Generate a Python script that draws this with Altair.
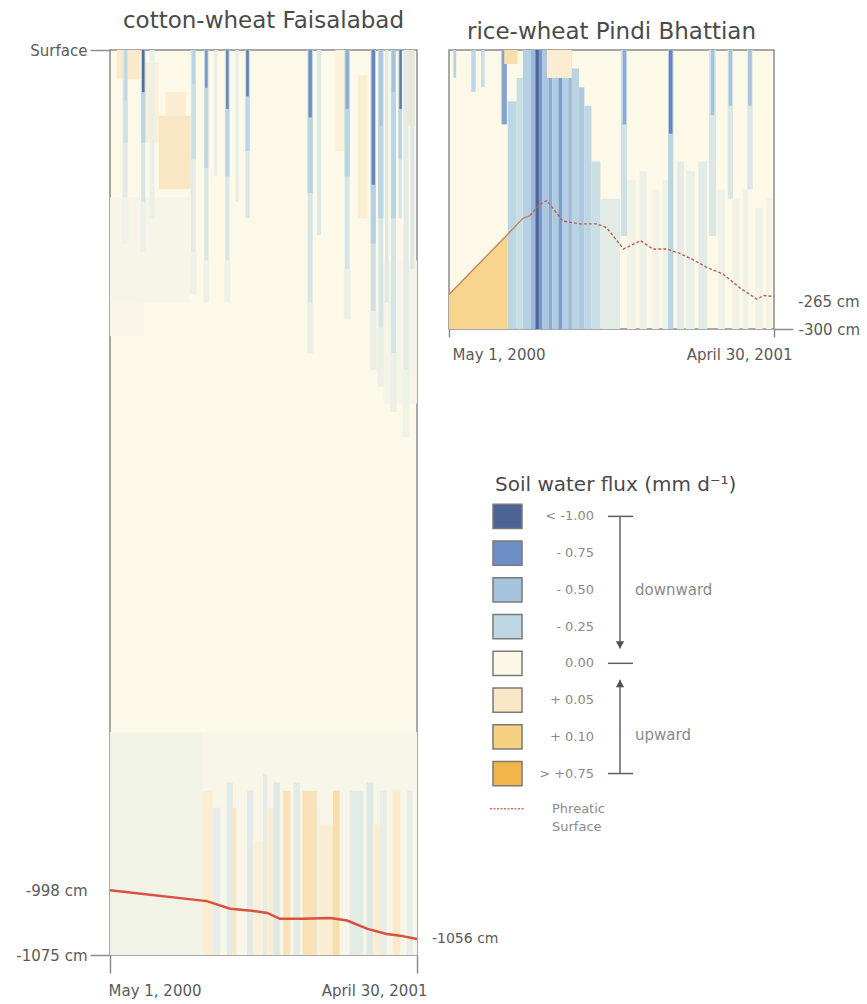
import altair as alt
import pandas as pd

FONT = "DejaVu Sans"
TITLE_C = "#4a4a4a"
TEXT_C = "#5a5a5a"
SOFT_C = "#8a8a8a"
BORDER = "#8c8c8c"
CREAM = "#fcf9e9"

# ---------------- legend classes ----------------
flux_breaks = [-1.0, -0.75, -0.5, -0.25, 0.0, 0.05, 0.10, 0.75]
flux_colors = ["#4d6596", "#6d8dc6", "#a6c3de", "#bdd8e4", "#fcf8e8", "#f9e6c4", "#f7d182", "#f2b54c"]
flux_labels = ["< -1.00", "- 0.75", "- 0.50", "- 0.25", "0.00", "+ 0.05", "+ 0.10", "> +0.75"]

# ---------------- axes ----------------
period_days = [0, 365]
period_labels = ["May 1, 2000", "April 30, 2001"]
cw_depth_ticks = [0, -998, -1075]
cw_depth_labels = ["Surface", "-998 cm", "-1075 cm"]
pb_depth_ticks = [-300]
pb_depth_labels = ["-300 cm"]

# ---------------- cotton-wheat Faisalabad (day0, day1, top cm, bottom cm, flux) ----------------
cw_faint = [
    (0, 95, -175, -300, -0.02),
    (0, 40, -300, -340, -0.012),
    (325, 365, -250, -420, -0.03),
    (0, 365, -810, -1075, -0.018),
    (0, 110, -812, -1075, -0.04),
]
cw_deep = [
    (110, 122, -880, -1075, 0.03),
    (122, 131, -900, -1075, -0.08),
    (139, 146, -870, -1075, -0.10),
    (146, 150, -900, -1075, 0.05),
    (163, 170, -880, -1075, -0.10),
    (170, 182, -940, -1075, 0.02),
    (182, 187, -860, -1075, -0.09),
    (187, 194, -900, -1075, 0.03),
    (194, 202, -870, -1075, -0.12),
    (206, 214, -880, -1075, 0.06),
    (218, 226, -870, -1075, -0.10),
    (229, 246, -880, -1075, 0.06),
    (246, 250, -900, -1075, -0.05),
    (250, 265, -920, -1075, 0.03),
    (265, 273, -880, -1075, 0.07),
    (285, 301, -880, -1075, -0.10),
    (305, 313, -870, -1075, -0.12),
    (313, 321, -920, -1075, 0.03),
    (321, 329, -880, -1075, -0.08),
    (336, 345, -880, -1075, 0.04),
    (353, 360, -880, -1075, -0.08),
]
cw_up = [
    (8, 36, 0, -35, 0.04),
    (40, 58, -15, -110, 0.025),
    (66, 90, -50, -78, 0.03),
    (58, 96, -78, -165, 0.05),
    (268, 280, 0, -120, 0.02),
    (295, 306, -30, -200, 0.03),
    (349, 362, 0, -90, 0.06),
]
cw_haze = [
    (14, 22, -175, -230, -0.05),
    (36, 43, -180, -240, -0.06),
    (95, 103, -240, -290, -0.05),
    (111, 118, -250, -300, -0.05),
    (136, 143, -250, -300, -0.05),
    (234, 242, -300, -360, -0.06),
    (278, 286, -260, -320, -0.06),
    (309, 317, -310, -380, -0.07),
    (318, 326, -330, -400, -0.06),
    (333, 341, -360, -430, -0.06),
    (348, 356, -380, -460, -0.05),
]
cw_tails = [
    (15, 21, 0, -175, -0.10),
    (37, 42, 0, -180, -0.15),
    (47, 53, 0, -200, -0.07),
    (96, 102, 0, -240, -0.10),
    (112, 117, 0, -250, -0.13),
    (124, 128, 0, -150, -0.08),
    (137, 142, 0, -250, -0.13),
    (149, 153, 0, -180, -0.08),
    (161, 166, 0, -200, -0.13),
    (235, 241, 0, -300, -0.15),
    (246, 251, 0, -220, -0.12),
    (279, 285, 0, -260, -0.15),
    (310, 316, 0, -310, -0.18),
    (319, 325, 0, -330, -0.15),
    (327, 331, 0, -300, -0.12),
    (334, 340, 0, -360, -0.15),
    (343, 347, 0, -200, -0.15),
    (349, 355, 0, -380, -0.10),
    (357, 362, 0, -260, -0.12),
]
cw_mids = [
    (16, 21, 0, -110, -0.18),
    (37, 42, 0, -110, -0.28),
    (97, 102, 0, -130, -0.2),
    (112, 117, 0, -140, -0.25),
    (137, 142, 0, -150, -0.28),
    (161, 166, 0, -120, -0.28),
    (235, 241, 0, -170, -0.3),
    (279, 285, 0, -150, -0.3),
    (310, 316, 0, -230, -0.35),
    (319, 325, 0, -200, -0.28),
    (334, 340, 0, -200, -0.28),
    (343, 347, 0, -130, -0.3),
]
cw_cores = [
    (17, 20, 0, -60, -0.25),
    (38, 41, 0, -50, -0.95),
    (98, 101, 0, -40, -0.35),
    (113, 116, 0, -45, -0.70),
    (138, 141, 0, -70, -0.80),
    (162, 165, 0, -55, -0.85),
    (236, 240, 0, -80, -0.75),
    (280, 284, 0, -70, -0.60),
    (311, 315, 0, -160, -0.80),
    (320, 324, 0, -90, -0.45),
    (335, 339, 0, -50, -0.50),
    (344, 347, 0, -70, -0.85),
]
cw_line_day = [0, 115, 143, 165, 187, 202, 229, 262, 282, 306, 329, 345, 365]
cw_line_depth = [-998, -1011, -1020, -1022, -1025, -1032, -1032, -1031, -1034, -1044, -1050, -1052, -1056]

# ---------------- rice-wheat Pindi Bhattian ----------------
pb_base = [
    (66, 76, -55, -300, -0.26),
    (76, 83, -30, -300, -0.20),
    (83, 92, 0, -300, -0.35),
    (92, 97, 0, -300, -0.55),
    (97, 101, 0, -300, -1.00),
    (101, 105, 0, -300, -0.70),
    (105, 112, 0, -300, -0.45),
    (112, 116, 0, -300, -0.62),
    (116, 123, 0, -300, -0.40),
    (123, 127, 0, -300, -0.68),
    (127, 134, 0, -300, -0.35),
    (134, 138, 0, -300, -0.55),
    (138, 146, -20, -300, -0.30),
    (146, 152, -40, -300, -0.42),
    (152, 160, -60, -300, -0.25),
    (160, 170, -120, -300, -0.20),
    (170, 192, -160, -300, -0.10),
    (200, 210, -140, -300, -0.04),
    (214, 222, -130, -300, -0.06),
    (228, 236, -150, -300, -0.035),
    (240, 246, -140, -300, -0.05),
    (256, 264, -120, -300, -0.09),
    (266, 276, -130, -300, -0.07),
    (280, 290, -120, -300, -0.10),
    (302, 310, -150, -300, -0.05),
    (318, 326, -160, -300, -0.04),
    (330, 336, -150, -300, -0.05),
    (344, 352, -170, -300, -0.04),
    (356, 362, -160, -300, -0.035),
]
pb_drips = [
    (5, 8, 0, -30, -0.30),
    (25, 30, 0, -45, -0.25),
    (36, 40, 0, -40, -0.20),
    (59, 65, 0, -80, -0.65),
    (193, 200, 0, -200, -0.18),
    (195, 199, 0, -80, -0.60),
    (246, 252, 0, -300, -0.28),
    (247, 251, 0, -90, -0.80),
    (292, 300, 0, -200, -0.13),
    (294, 298, 0, -70, -0.50),
    (313, 319, 0, -160, -0.13),
    (314, 318, 0, -60, -0.50),
    (335, 341, 0, -150, -0.13),
    (336, 340, 0, -60, -0.50),
]
pb_up = [
    (62, 77, 0, -15, 0.07),
    (110, 138, 0, -30, 0.03),
]
pb_below_line_flux = 0.09
pb_below_line_until = 66
pb_solid_until = 91
pb_line_day = [0, 66, 83, 91, 102, 110, 128, 147, 166, 177, 196, 215, 229, 245, 260, 275, 290, 308, 327, 346, 353, 365]
pb_line_depth = [-263, -198, -181, -178, -166, -162, -184, -187, -187, -191, -214, -205, -214, -214, -219, -226,
                 -234, -241, -256, -268, -264, -265]

# ---------------- legend decoration ----------------
legend_rows = list(range(len(flux_labels)))
bracket_from = [0, 4.45]
bracket_to = [3.6, 7]
bracket_caps = [0, 4, 7]
arrow_rows = [3.5, 4.55]
arrow_shapes = ["triangle-down", "triangle-up"]
direction_rows = [2, 5.94]
direction_labels = ["downward", "upward"]
phreatic_row = 7.96
phreatic_words = ["Phreatic", "Surface"]
phreatic_word_rows = [7.96, 8.45]


def rect_frame(rows):
    return pd.DataFrame(rows, columns=["day", "day2", "depth", "depth2", "flux"])


def label_expr(values, labels):
    expr = "''"
    for v, lab in reversed(list(zip(values, labels))):
        expr = f"datum.value == {v} ? '{lab}' : {expr}"
    return expr


def cond(test, a, b):
    return {"condition": {"test": test, "value": a}, "value": b}


flux_scale = alt.Scale(domain=flux_breaks, range=flux_colors, interpolate="rgb", clamp=True)
flux_color = alt.Color("flux:Q", scale=flux_scale, legend=None)
day_scale = alt.Scale(domain=[0, 365], nice=False, zero=False)


def x_axis(tick, pad, off_first, off_last):
    return alt.Axis(values=period_days, labelExpr=label_expr(period_days, period_labels), title=None,
                    domain=False, grid=False, tickSize=tick, tickWidth=1.5, tickColor=BORDER,
                    labelFont=FONT, labelFontSize=15, labelColor=TEXT_C, labelPadding=pad,
                    labelAlign=cond("datum.value == 0", "left", "right"),
                    labelOffset=cond("datum.value == 0", off_first, off_last),
                    labelFlush=False, labelOverlap=False)


# ---------------- left panel ----------------
cw_x = alt.X("day:Q", scale=day_scale, axis=x_axis(18, 10, -2, 10))
cw_y = alt.Y("depth:Q", scale=alt.Scale(domain=[-1075, 0], nice=False, zero=False),
             axis=alt.Axis(values=cw_depth_ticks, labelExpr=label_expr(cw_depth_ticks, cw_depth_labels),
                           title=None, domain=False, grid=False, tickSize=20, tickWidth=1.5, tickColor=BORDER,
                           tickOpacity=cond("datum.value == -998", 0, 1),
                           labelFont=FONT, labelFontSize=15, labelColor=TEXT_C, labelPadding=3))

cw_rects = rect_frame(cw_faint + cw_deep + cw_up + cw_haze + cw_tails + cw_mids + cw_cores)
cw_line = pd.DataFrame({"day": cw_line_day, "depth": cw_line_depth})

cw_rect_layer = alt.Chart(cw_rects).mark_rect().encode(
    x=cw_x, x2=alt.X2("day2"), y=cw_y, y2=alt.Y2("depth2"), color=flux_color)
cw_line_layer = alt.Chart(cw_line).mark_line(color="#d9503f", strokeWidth=2.5).encode(x=cw_x, y=cw_y)
cw_end_label = alt.Chart(cw_line).transform_filter(f"datum.day == {period_days[-1]}").transform_calculate(
    label="datum.depth + ' cm'").mark_text(align="left", dx=15, font=FONT, fontSize=14, color=TEXT_C).encode(
    x=cw_x, y=cw_y, text="label:N")

left = alt.layer(cw_rect_layer, cw_line_layer, cw_end_label).properties(
    width=307, height=905,
    title=alt.TitleParams("cotton-wheat Faisalabad", font=FONT, fontSize=23, fontWeight="normal",
                          color=TITLE_C, offset=10),
    view=alt.ViewBackground(fill=CREAM, stroke=BORDER, strokeWidth=1.5))

# ---------------- right panel ----------------
pb_x = alt.X("day:Q", scale=day_scale, axis=x_axis(8, 10, 3, 18))
pb_y = alt.Y("depth:Q", scale=alt.Scale(domain=[-300, 0], nice=False, zero=False),
             axis=alt.Axis(orient="right", values=pb_depth_ticks,
                           labelExpr=label_expr(pb_depth_ticks, pb_depth_labels), title=None, domain=False,
                           grid=False, tickSize=19, tickWidth=1.5, tickColor=BORDER, labelFont=FONT,
                           labelFontSize=15, labelColor=TEXT_C, labelPadding=5))

pb_rects = rect_frame(pb_base + pb_drips + pb_up)
pb_line = pd.DataFrame({"day": pb_line_day, "depth": pb_line_depth})
pb_line["flux"] = pb_below_line_flux

pb_area = alt.Chart(pb_line).transform_filter(f"datum.day <= {pb_below_line_until}").mark_area(
    opacity=1).encode(x=pb_x, y=pb_y, y2=alt.datum(-300), color=flux_color)
pb_rect_layer = alt.Chart(pb_rects).mark_rect().encode(
    x=pb_x, x2=alt.X2("day2"), y=pb_y, y2=alt.Y2("depth2"), color=flux_color)
pb_solid = alt.Chart(pb_line).transform_filter(f"datum.day <= {pb_solid_until}").mark_line(
    color="#c4875a", strokeWidth=1.4).encode(x=pb_x, y=pb_y)
pb_dashed = alt.Chart(pb_line).transform_filter(f"datum.day >= {pb_solid_until}").mark_line(
    color="#b8624e", strokeWidth=1.4, strokeDash=[3, 2]).encode(x=pb_x, y=pb_y)
pb_end_label = alt.Chart(pb_line).transform_filter(f"datum.day == {period_days[-1]}").transform_calculate(
    label="datum.depth + ' cm'").mark_text(align="left", dx=24, dy=6, font=FONT, fontSize=15,
                                           color=TEXT_C).encode(x=pb_x, y=pb_y, text="label:N")

right = alt.layer(pb_area, pb_rect_layer, pb_solid, pb_dashed, pb_end_label).properties(
    width=325, height=279,
    title=alt.TitleParams("rice-wheat Pindi Bhattian", font=FONT, fontSize=23, fontWeight="normal",
                          color=TITLE_C, offset=6),
    view=alt.ViewBackground(fill=CREAM, stroke=BORDER, strokeWidth=1.5))

# ---------------- legend panel ----------------
row_scale = alt.Scale(domain=[-0.5, 9], reverse=True, nice=False, zero=False)
leg_df = pd.DataFrame({"row": legend_rows, "label": flux_labels, "flux": flux_breaks})

swatches = alt.Chart(leg_df).transform_calculate(r0="datum.row - 0.33", r1="datum.row + 0.33").mark_rect(
    stroke="#7a7a7a", strokeWidth=1.5).encode(
    x=alt.value(44), x2=alt.value(73), y=alt.Y("r0:Q", scale=row_scale, axis=None), y2=alt.Y2("r1"),
    color=flux_color)
sw_labels = alt.Chart(leg_df).mark_text(align="right", font=FONT, fontSize=13, color=SOFT_C).encode(
    x=alt.value(145), y=alt.Y("row:Q", scale=row_scale, axis=None), text="label:N")
br_lines = alt.Chart(pd.DataFrame({"a": bracket_from, "b": bracket_to})).mark_rule(
    color="#606060", strokeWidth=1.5).encode(
    x=alt.value(171), y=alt.Y("a:Q", scale=row_scale, axis=None), y2=alt.Y2("b"))
br_caps = alt.Chart(pd.DataFrame({"row": bracket_caps})).mark_rule(color="#606060", strokeWidth=1.5).encode(
    x=alt.value(159), x2=alt.value(184), y=alt.Y("row:Q", scale=row_scale, axis=None))
br_arrows = alt.Chart(pd.DataFrame({"row": arrow_rows, "shape": arrow_shapes})).mark_point(
    filled=True, size=70, color="#505050", opacity=1).encode(
    x=alt.value(171), y=alt.Y("row:Q", scale=row_scale, axis=None), shape=alt.Shape("shape:N", scale=None))
br_text = alt.Chart(pd.DataFrame({"row": direction_rows, "label": direction_labels})).mark_text(
    align="left", font=FONT, fontSize=15, color=SOFT_C).encode(
    x=alt.value(186), y=alt.Y("row:Q", scale=row_scale, axis=None), text="label:N")
ph_line = alt.Chart(pd.DataFrame({"row": [phreatic_row]})).mark_rule(
    color="#e06a5a", strokeWidth=1.5, strokeDash=[2, 1.5]).encode(
    x=alt.value(41), x2=alt.value(76), y=alt.Y("row:Q", scale=row_scale, axis=None))
ph_text = alt.Chart(pd.DataFrame({"row": phreatic_word_rows, "label": phreatic_words})).mark_text(
    align="left", font=FONT, fontSize=13, color=SOFT_C).encode(
    x=alt.value(103), y=alt.Y("row:Q", scale=row_scale, axis=None), text="label:N")

legend = alt.layer(swatches, sw_labels, br_lines, br_caps, br_arrows, br_text, ph_line, ph_text).properties(
    width=280, height=349,
    title=alt.TitleParams("Soil water flux (mm d\u207b\u00b9)", font=FONT, fontSize=20, fontWeight="normal",
                          color=TITLE_C, anchor="start", dx=46, offset=3),
    view=alt.ViewBackground(stroke=None))

chart = alt.hconcat(
    left,
    alt.vconcat(right, legend, spacing=169, bounds="flush"),
    spacing=32, bounds="flush"
).properties(
    padding={"left": 15, "top": 9, "right": 4, "bottom": 4},
    background="white"
)

chart.save("out.html", embed_options={"renderer": "svg", "actions": False})
